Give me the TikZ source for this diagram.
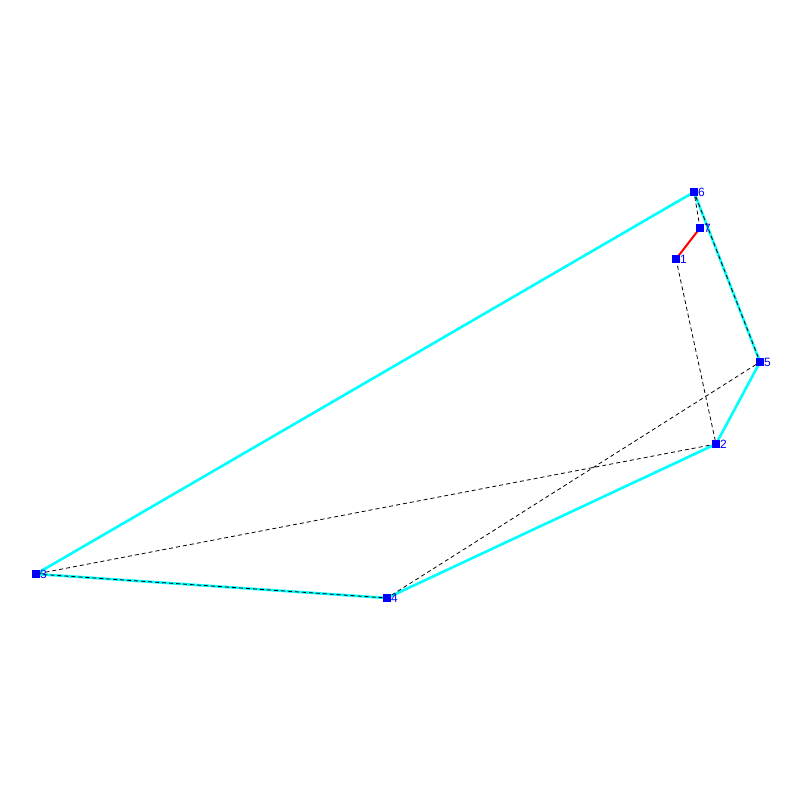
\documentclass[tikz,border=0pt]{standalone}
\usepackage{fontspec}
\setmainfont{Liberation Sans}
\definecolor{hullc}{RGB}{0,255,255}
\definecolor{ptc}{RGB}{0,0,255}
\definecolor{redc}{RGB}{255,0,0}
\begin{document}
\begin{tikzpicture}[x=1pt,y=-1pt,
  pt/.style={fill=ptc,minimum size=7.5pt,inner sep=0pt,draw=none},
  lab/.style={text=ptc,font=\fontsize{12}{12}\selectfont,anchor=west,inner sep=0pt},
  hull/.style={hullc,line width=2.6pt},
  dsh/.style={black,line width=0.8pt,dash pattern=on 4pt off 3pt},
  redl/.style={redc,line width=2pt}]
\useasboundingbox (0,0) rectangle (800,800);
\coordinate (p1) at (676,259);
\coordinate (p2) at (716,444);
\coordinate (p3) at (36,574);
\coordinate (p4) at (387,598);
\coordinate (p5) at (760,362);
\coordinate (p6) at (694,192);
\coordinate (p7) at (700,228);
\draw[hull,line join=round] (p6) -- (p5) -- (p2) -- (p4) -- (p3) -- cycle;
\draw[dsh] (p1) -- (p2) -- (p3) -- (p4) -- (p5) -- (p6) -- (p7);
\draw[redl] (p7) -- (p1);
\foreach \i in {1,...,7}{
  \node[pt] (n\i) at (p\i) {};
  \node[lab] (l\i) at ([xshift=4pt]p\i) {\i};
}
\end{tikzpicture}
\end{document}
